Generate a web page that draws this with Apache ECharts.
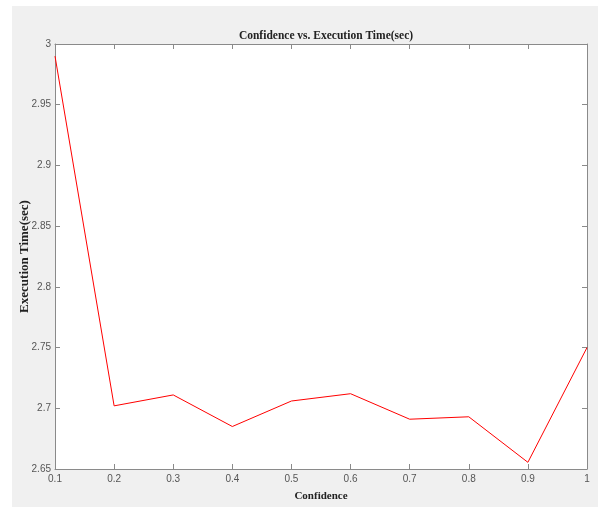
<!DOCTYPE html>
<html>
<head>
<meta charset="utf-8">
<script src="https://cdn.jsdelivr.net/npm/echarts@6/dist/echarts.min.js"></script>
<style>html,body{margin:0;padding:0;background:#fff;}#c{width:606px;height:508px;}</style>
</head>
<body>
<div id="c"></div>
<script>
const confidence = [0.1, 0.2, 0.3, 0.4, 0.5, 0.6, 0.7, 0.8, 0.9, 1.0];
const execTime = [2.990, 2.702, 2.711, 2.685, 2.706, 2.712, 2.691, 2.693, 2.6555, 2.750];

const chart = echarts.init(document.getElementById('c'), null, {renderer: 'canvas'});
const axisColor = '#8a8a8a';
const labelColor = '#555';
const serif = '"Liberation Serif", "DejaVu Serif", serif';
const sans = '"Liberation Sans", Arial, sans-serif';
const frameAxisX = {
  type: 'value', min: 0.1, max: 1, interval: 0.1,
  axisLine: {show: true, onZero: false, lineStyle: {color: axisColor, width: 1}},
  axisTick: {show: true, inside: true, length: 5, lineStyle: {color: axisColor}},
  splitLine: {show: false}
};
const frameAxisY = {
  type: 'value', min: 2.65, max: 3, interval: 0.05,
  axisLine: {show: true, onZero: false, lineStyle: {color: axisColor, width: 1}},
  axisTick: {show: true, inside: true, length: 5, lineStyle: {color: axisColor}},
  splitLine: {show: false}
};
chart.setOption({
  animation: false,
  backgroundColor: '#ffffff',
  graphic: [{
    type: 'rect', z: -10, silent: true,
    shape: {x: 12, y: 6, width: 586, height: 501},
    style: {fill: '#f0f0f0'}
  }, {
    type: 'rect', z: -5, silent: true,
    shape: {x: 55, y: 44, width: 532, height: 425},
    style: {fill: '#ffffff'}
  }],
  title: {
    text: 'Confidence vs. Execution Time(sec)',
    left: 321, textAlign: 'center', top: 25,
    textStyle: {fontFamily: serif, fontWeight: 'bold', fontSize: 11.5, color: '#222'}
  },
  grid: {left: 55, top: 44, right: 19, bottom: 39, containLabel: false},
  xAxis: [
    Object.assign({}, frameAxisX, {
      position: 'bottom',
      name: 'Confidence', nameLocation: 'middle', nameGap: 22, nameMoveOverlap: false,
      nameTextStyle: {fontFamily: serif, fontWeight: 'bold', fontSize: 11, color: '#222'},
      axisLabel: {show: true, color: labelColor, fontFamily: sans, fontSize: 10, margin: 5}
    }),
    Object.assign({}, frameAxisX, {position: 'top', axisLabel: {show: false}})
  ],
  yAxis: [
    Object.assign({}, frameAxisY, {
      position: 'left',
      name: 'Execution Time(sec)', nameLocation: 'middle', nameGap: 24, nameMoveOverlap: false,
      nameTextStyle: {fontFamily: serif, fontWeight: 'bold', fontSize: 13, color: '#222'},
      axisLabel: {show: true, color: labelColor, fontFamily: sans, fontSize: 10, margin: 4}
    }),
    Object.assign({}, frameAxisY, {position: 'right', axisLabel: {show: false}})
  ],
  series: [{
    type: 'line',
    data: confidence.map((c, i) => [c, execTime[i]]),
    showSymbol: false,
    lineStyle: {color: '#ff0000', width: 1},
    itemStyle: {color: '#ff0000'}
  }]
});
</script>
</body>
</html>
